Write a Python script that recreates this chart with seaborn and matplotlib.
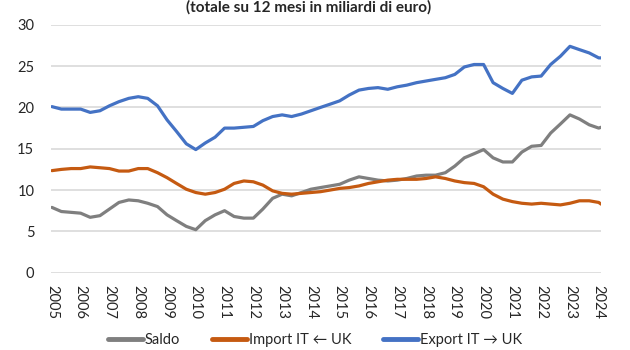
import numpy as np
import pandas as pd
import matplotlib
matplotlib.use("Agg")
import matplotlib.pyplot as plt
import seaborn as sns
from matplotlib.lines import Line2D

# time points (fractional years)
years = [2005.00, 2005.33, 2005.67, 2006.00, 2006.33, 2006.67, 2007.00, 2007.33, 2007.67,
         2008.00, 2008.33, 2008.67, 2009.00, 2009.33, 2009.67, 2010.00, 2010.33, 2010.67,
         2011.00, 2011.33, 2011.67, 2012.00, 2012.33, 2012.67, 2013.00, 2013.33, 2013.67,
         2014.00, 2014.33, 2014.67, 2015.00, 2015.33, 2015.67, 2016.00, 2016.33, 2016.67,
         2017.00, 2017.33, 2017.67, 2018.00, 2018.33, 2018.67, 2019.00, 2019.33, 2019.67,
         2020.00, 2020.33, 2020.67, 2021.00, 2021.33, 2021.67, 2022.00, 2022.33, 2022.67,
         2023.00, 2023.33, 2023.67, 2024.00, 2024.08]

export_it_uk = [20.1, 19.8, 19.8, 19.8, 19.4, 19.6, 20.2, 20.7, 21.1,
                21.3, 21.1, 20.2, 18.5, 17.1, 15.6, 14.9, 15.7, 16.4,
                17.5, 17.5, 17.6, 17.7, 18.4, 18.9, 19.1, 18.9, 19.2,
                19.6, 20.0, 20.4, 20.8, 21.5, 22.1, 22.3, 22.4, 22.2,
                22.5, 22.7, 23.0, 23.2, 23.4, 23.6, 24.0, 24.9, 25.2,
                25.2, 23.0, 22.3, 21.7, 23.3, 23.7, 23.8, 25.2, 26.2,
                27.4, 27.0, 26.6, 26.0, 26.0]

import_it_uk = [12.35, 12.5, 12.6, 12.6, 12.8, 12.7, 12.6, 12.3, 12.3,
                12.6, 12.6, 12.1, 11.5, 10.8, 10.1, 9.7, 9.5, 9.7,
                10.1, 10.8, 11.1, 11.0, 10.6, 9.9, 9.6, 9.5, 9.6,
                9.7, 9.8, 10.0, 10.2, 10.3, 10.5, 10.8, 11.0, 11.2,
                11.3, 11.3, 11.3, 11.4, 11.6, 11.4, 11.1, 10.9, 10.8,
                10.4, 9.5, 8.9, 8.6, 8.4, 8.3, 8.4, 8.3, 8.2,
                8.4, 8.7, 8.7, 8.5, 8.3]

saldo = [7.9, 7.4, 7.3, 7.2, 6.7, 6.9, 7.7, 8.5, 8.8,
         8.7, 8.4, 8.0, 7.0, 6.3, 5.6, 5.2, 6.3, 7.0,
         7.5, 6.8, 6.6, 6.6, 7.7, 9.0, 9.5, 9.3, 9.7,
         10.1, 10.3, 10.5, 10.7, 11.2, 11.6, 11.4, 11.2, 11.1,
         11.2, 11.4, 11.7, 11.8, 11.8, 12.1, 12.9, 13.9, 14.4,
         14.9, 13.9, 13.4, 13.4, 14.6, 15.3, 15.4, 16.9, 18.0,
         19.1, 18.6, 17.9, 17.5, 17.6]

series_names = ["Saldo", "Import IT \u2190 UK", "Export IT \u2192 UK"]
series_colors = ["#7f7f7f", "#c55a11", "#4472c4"]
x_tick_labels = [str(y) for y in range(2005, 2025)]
y_ticks = [0, 5, 10, 15, 20, 25, 30]
title = "(totale su 12 mesi in miliardi di euro)"

df = pd.concat([
    pd.DataFrame({"anno": years, "valore": saldo, "serie": series_names[0]}),
    pd.DataFrame({"anno": years, "valore": import_it_uk, "serie": series_names[1]}),
    pd.DataFrame({"anno": years, "valore": export_it_uk, "serie": series_names[2]}),
], ignore_index=True)

sns.set_style("white")
plt.rcParams["font.family"] = ["Lato", "DejaVu Sans"]

fig = plt.figure(figsize=(6.3, 3.5), dpi=100)
ax = fig.add_axes([0.081, 0.221, 0.873, 0.708])

sns.lineplot(data=df, x="anno", y="valore", hue="serie", hue_order=series_names,
             palette=series_colors, linewidth=2.3, ax=ax, legend=False)

ax.set_xlim(2004.97, 2024.08)
ax.set_ylim(0, 30)
ax.set_yticks(y_ticks)
ax.set_yticklabels([str(v) for v in y_ticks], fontsize=10.5, color="#262626")
ax.set_xticks([int(s) for s in x_tick_labels])
ax.set_xticklabels(x_tick_labels, rotation=-90, fontsize=10.5, color="#262626")
ax.tick_params(axis="both", length=0)
ax.tick_params(axis="x", pad=9)
ax.tick_params(axis="y", pad=12)
ax.yaxis.grid(True, color="#d9d9d9", linewidth=1.2)
ax.set_axisbelow(True)
ax.set_xlabel("")
ax.set_ylabel("")
for s in ax.spines.values():
    s.set_visible(False)

handles = [Line2D([0], [0], color=c, linewidth=3.5) for c in series_colors]
fig.legend(handles, series_names, loc="center", bbox_to_anchor=(0.5, 0.028),
           ncol=3, frameon=False, fontsize=10.5, handlelength=2.4,
           handletextpad=0.1, columnspacing=2.2, borderpad=0.1)

fig.text(0.49, 0.978, title, ha="center", va="center", fontsize=11,
         fontweight="bold", color="#262626")

fig.savefig("out.png", dpi=100)
